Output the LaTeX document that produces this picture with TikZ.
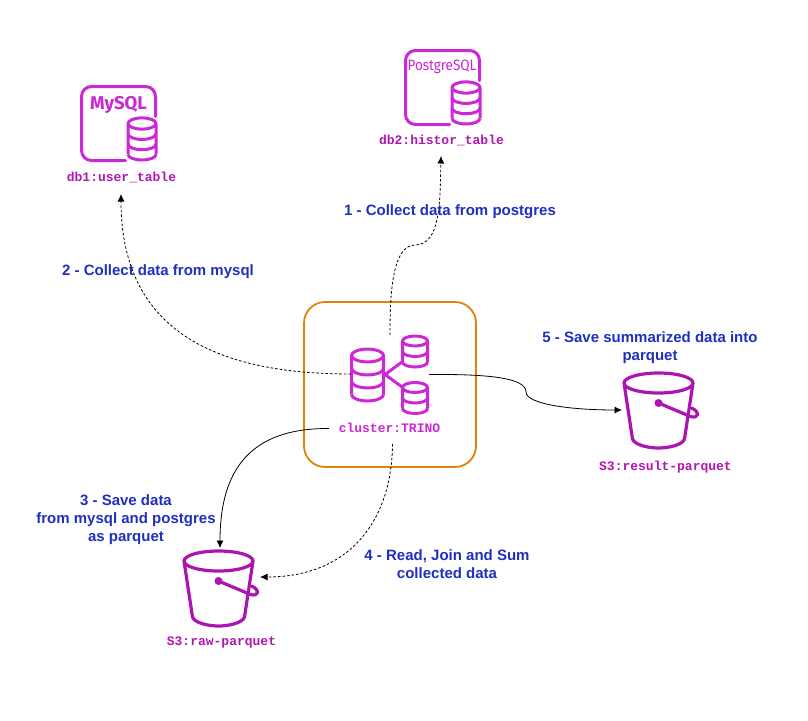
\documentclass[tikz,border=0pt]{standalone}
\usepackage{fontspec}
\setmainfont{Liberation Sans}
\setmonofont{Liberation Mono}
\newfontfamily\logofont{Fira Sans}
\usetikzlibrary{arrows.meta,positioning}
\definecolor{stepblue}{RGB}{32,48,190}
\definecolor{dbpurple}{RGB}{204,40,214}
\definecolor{labelpurple}{RGB}{176,22,178}
\definecolor{bucketpurple}{RGB}{172,20,176}
\definecolor{clusterorange}{RGB}{222,132,8}
\tikzset{
  flow/.style={-{Latex[length=7.5pt,width=7pt]},line width=0.8pt,draw=black},
  dashflow/.style={flow,dash pattern=on 2.6pt off 2pt},
  steplabel/.style={align=center,text=stepblue,font=\fontsize{15}{18}\selectfont\bfseries,inner sep=0pt},
  iconlabel/.style={text=labelpurple,font=\fontsize{13}{15}\selectfont\ttfamily\bfseries,inner sep=0pt},
  pics/dbstack/.style n args={3}{code={
    \draw[draw=dbpurple,line width=3pt,line join=round]
      (0,0) ellipse[x radius=#1,y radius=#1*0.4]
      (-#1,0) -- (-#1,#2*#3) (#1,0) -- (#1,#2*#3);
    \foreach \band in {1,...,#3}
      \draw[draw=dbpurple,line width=3pt] (-#1,\band*#2) arc[start angle=180,end angle=0,x radius=#1,y radius=#1*0.4];
  }},
  pics/dbframe/.style={code={
    \draw[draw=dbpurple,line width=3pt,line cap=round,rounded corners=10pt] (44,74) -- (0,74) -- (0,0) -- (74,0) -- (74,30);
    \pic at (60.5,37) {dbstack={14}{10.3}{3}};
  }},
  pics/bucket/.style={code={
    \draw[draw=bucketpurple,line width=3.2pt,line join=round]
      (0,0) ellipse[x radius=34.5,y radius=10]
      (-34.5,0) -- (-26,56) .. controls (-24,62) and (-10,65) .. (0,65)
      .. controls (10,65) and (24,62) .. (26,56) -- (34.5,0);
    \fill[bucketpurple] (0,20) circle[radius=4];
    \draw[draw=bucketpurple,line width=3.2pt,line cap=round] (0,20) -- (32,33.5)
      .. controls (40,36) and (42,29) .. (33,25);
  }}
}
\begin{document}
\begin{tikzpicture}[x=1pt,y=-1pt]
  \useasboundingbox[fill=white] (0,0) rectangle (808,720);

  % cluster in the middle
  \node[draw=clusterorange,line width=1.8pt,rounded corners=21pt,minimum width=172pt,minimum height=165pt,inner sep=0pt] (cluster) at (390,384.5) {};
  \pic at (367.5,355.5) {dbstack={16}{13}{3}};
  \pic at (415,341) {dbstack={12.5}{10.5}{2}};
  \pic at (415,387.5) {dbstack={12.5}{10.5}{2}};
  \draw[draw=dbpurple,line width=3pt] (402,362) -- (385,374.5) -- (402,387);
  \node[iconlabel,text=dbpurple] (trino) at (389.5,428) {cluster:TRINO};

  % sources
  \pic at (81.5,86.5) {dbframe};
  \node[dbpurple,font=\logofont\fontsize{18.5}{19}\selectfont\bfseries,inner sep=0pt] (mysql) at (118.5,105) {MySQL};
  \node[iconlabel] (db1) at (121.5,177) {db1:user\_table};
  \pic at (405.5,50.5) {dbframe};
  \node[dbpurple,font=\logofont\fontsize{15}{15}\selectfont,inner sep=0pt,xscale=0.9] (pg) at (442,66.5) {PostgreSQL};
  \node[iconlabel] (db2) at (441.5,140) {db2:histor\_table};

  % buckets
  \pic at (218.5,561) {bucket};
  \node[iconlabel] (raw) at (221.5,642) {S3:raw-parquet};
  \pic at (658.5,383) {bucket};
  \node[iconlabel] (result) at (665.5,467.5) {S3:result-parquet};

  % connector ends
  \coordinate (c1) at (390,335);
  \coordinate (c2) at (351,374);
  \coordinate (c3) at (329,428.5);
  \coordinate (c4) at (392.5,444);
  \coordinate (c5) at (429,374.5);
  \coordinate (e1) at (441,156);
  \coordinate (e2) at (121,194);
  \coordinate (e3) at (220,548);
  \coordinate (e4) at (260,577);
  \coordinate (e5) at (622,410);

  \draw[dashflow] (c1) .. controls (390,300) and (391,245) .. (415,245) .. controls (441,245) and (440,200) .. (e1);
  \draw[dashflow] (c2) .. controls (230,374) and (121,340) .. (e2);
  \draw[flow] (c3) .. controls (250,428) and (220,470) .. (e3);
  \draw[dashflow] (c4) .. controls (392,520) and (350,577) .. (e4);
  \draw[flow] (c5) .. controls (490,374) and (526,378) .. (526,392) .. controls (526,404) and (570,410) .. (e5);

  \node[steplabel] (s1) at (450,211.5) {1 - Collect data from postgres};
  \node[steplabel] (s2) at (158,272) {2 - Collect data from mysql};
  \node[steplabel] (s3) at (126,519.5) {3 - Save data~\\from mysql and postgres\\as parquet};
  \node[steplabel] (s4) at (447,564) {4 - Read, Join and Sum\\collected data};
  \node[steplabel] (s5) at (650,348) {5 - Save summarized data into\\parquet};
\end{tikzpicture}
\end{document}
